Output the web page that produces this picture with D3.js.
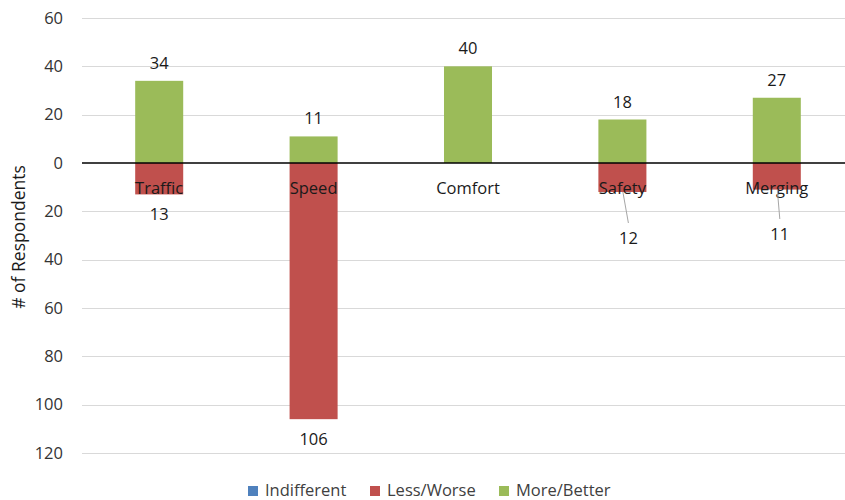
<!DOCTYPE html>
<html>
<head>
<meta charset="utf-8">
<script src="https://cdn.jsdelivr.net/npm/d3@7"></script>
<style>
  html, body { margin: 0; padding: 0; background: #fff; }
  svg { display: block; font-family: "Open Sans", "Noto Sans", sans-serif; }
</style>
</head>
<body>
<svg id="chart" width="845" height="500"></svg>
<script>
const categories = ["Traffic", "Speed", "Comfort", "Safety", "Merging"];
const indifferent = [0, 0, 0, 0, 0];
const lessWorse = [13, 106, 0, 12, 11];
const moreBetter = [34, 11, 40, 18, 27];
const yTicks = [60, 40, 20, 0, -20, -40, -60, -80, -100, -120];
const seriesNames = ["Indifferent", "Less/Worse", "More/Better"];
const seriesColors = ["#4F81BD", "#C0504D", "#9BBB59"];
// label offsets (px: dx, baseline below zero line) for data labels moved in the original
const lessLabelShift = { Safety: [6, 81], Merging: [3, 77] };

(function () {
const svg = d3.select("#chart");
const W = 845, H = 500;
const pLeft = 82, pRight = 854, pTop = 18, pBottom = 453;

const x = d3.scaleBand().domain(categories).range([pLeft, pRight]).paddingInner(0.689).paddingOuter(0.3445);
const y = d3.scaleLinear().domain([-120, 60]).range([pBottom, pTop]);

// gridlines
svg.append("g").selectAll("line").data(yTicks.filter(d => d !== 0)).join("line")
  .attr("x1", pLeft).attr("x2", W).attr("y1", d => Math.round(y(d)) + 0.5).attr("y2", d => Math.round(y(d)) + 0.5)
  .attr("stroke", "#d9d9d9").attr("stroke-width", 1);

// y axis tick labels
const yAxis = d3.axisLeft(y).tickValues(yTicks).tickSize(0).tickPadding(0).tickFormat(d => Math.abs(d));
const gy = svg.append("g").attr("transform", `translate(63,0)`).call(yAxis);
gy.select(".domain").remove();
gy.selectAll("text").attr("font-size", 16.5).attr("fill", "#333")
  .attr("font-family", "'Open Sans', sans-serif");

// bars
const bw = x.bandwidth();
svg.append("g").selectAll("rect").data(categories).join("rect")
  .attr("x", d => x(d)).attr("width", bw)
  .attr("y", (d, i) => y(moreBetter[i])).attr("height", (d, i) => y(0) - y(moreBetter[i]))
  .attr("fill", seriesColors[2]);
svg.append("g").selectAll("rect").data(categories).join("rect")
  .attr("x", d => x(d)).attr("width", bw)
  .attr("y", y(0)).attr("height", (d, i) => y(-lessWorse[i]) - y(0))
  .attr("fill", seriesColors[1]);
svg.append("g").selectAll("rect").data(categories).join("rect")
  .attr("x", d => x(d)).attr("width", bw)
  .attr("y", (d, i) => y(indifferent[i])).attr("height", (d, i) => y(0) - y(indifferent[i]))
  .attr("fill", seriesColors[0]);

// zero line
svg.append("line").attr("x1", pLeft).attr("x2", W).attr("y1", y(0)).attr("y2", y(0))
  .attr("stroke", "#000").attr("stroke-width", 1.3);

// category labels
svg.append("g").selectAll("text").data(categories).join("text")
  .attr("x", d => x(d) + bw / 2).attr("y", y(0) + 31)
  .attr("text-anchor", "middle").attr("font-size", 16.5).attr("fill", "#1a1a1a")
  .text(d => d);

// positive data labels
svg.append("g").selectAll("text").data(categories.filter((d, i) => moreBetter[i] > 0)).join("text")
  .attr("x", d => x(d) + bw / 2)
  .attr("y", d => y(moreBetter[categories.indexOf(d)]) - 12)
  .attr("text-anchor", "middle").attr("font-size", 16.5).attr("fill", "#1a1a1a")
  .text(d => moreBetter[categories.indexOf(d)]);

// negative data labels
const negCats = categories.filter((d, i) => lessWorse[i] > 0);
negCats.forEach(d => {
  const i = categories.indexOf(d);
  const cx = x(d) + bw / 2;
  const by = y(-lessWorse[i]);
  const shift = lessLabelShift[d];
  if (shift) {
    const lx = cx + shift[0], ly = y(0) + shift[1];
    svg.append("line").attr("x1", cx + 0.5).attr("y1", by).attr("x2", lx).attr("y2", ly - 21)
      .attr("stroke", "#a6a6a6").attr("stroke-width", 1);
    svg.append("text").attr("x", lx).attr("y", ly)
      .attr("text-anchor", "middle").attr("font-size", 16.5).attr("fill", "#1a1a1a").text(lessWorse[i]);
  } else {
    svg.append("text").attr("x", cx).attr("y", by + 25.7)
      .attr("text-anchor", "middle").attr("font-size", 16.5).attr("fill", "#1a1a1a").text(lessWorse[i]);
  }
});

// y axis title
svg.append("text").attr("transform", `translate(18,237) rotate(-90)`)
  .attr("text-anchor", "middle").attr("dominant-baseline", "central")
  .attr("font-size", 17.5).attr("fill", "#1a1a1a").text("# of Respondents");

// legend
const legendX = [248, 370, 499];
const lg = svg.append("g");
seriesNames.forEach((name, i) => {
  lg.append("rect").attr("x", legendX[i]).attr("y", 486).attr("width", 10).attr("height", 10)
    .attr("fill", seriesColors[i]);
  lg.append("text").attr("x", legendX[i] + 17).attr("y", 495.5)
    .attr("font-size", 16.5).attr("fill", "#404040").text(name);
});
})();
</script>
</body>
</html>
